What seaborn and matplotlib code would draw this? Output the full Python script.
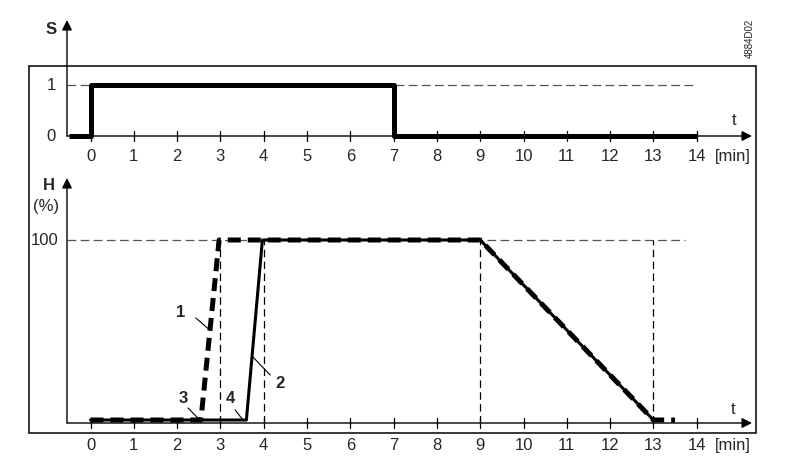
import matplotlib.pyplot as plt
import matplotlib.patches as mpatches
import seaborn as sns
import pandas as pd

# Signal S (on/off) over time [min]
s_time = [-0.5, 0, 0, 7, 7, 14]
s_value = [0, 0, 1, 1, 0, 0]

# Stroke H [%] of the two actuator curves
h1_time = [0, 2.55, 2.97, 9, 13, 13.5]
h1_value = [0, 0, 100, 100, 0, 0]
h2_time = [0, 3.6, 3.97, 9, 13]
h2_value = [0, 0, 100, 100, 0]

minutes = list(range(0, 15))
guide_times = [3, 4, 9, 13]

# curve labels: text, text position, leader start, leader end (time, H)
callouts = [
    ('1', (2.09, 60), (2.43, 56.7), (2.73, 50.5)),
    ('2', (4.38, 20.5), (3.75, 35), (4.15, 25)),
    ('3', (2.14, 11.7), (2.25, 6.7), (2.48, 1.1)),
    ('4', (3.22, 11.7), (3.34, 5.6), (3.52, 0)),
]

sns.set_style('white')
plt.rcParams['font.family'] = ['Liberation Sans', 'DejaVu Sans']

fig = plt.figure(figsize=(7.94, 4.65), dpi=100)

# pixel layout: t=0 at px 90.5, 43.3 px per minute
px0, ppm = 90.5, 43.3
xlim = (-px0 / ppm, (794 - px0) / ppm)
x_axis_start = (67 - px0) / ppm
x_arrow_end = (752 - px0) / ppm

ax1 = fig.add_axes([0, 300 / 465, 1, 165 / 465])
ax2 = fig.add_axes([0, 0, 1, 300 / 465])
for ax in (ax1, ax2):
    ax.set_xlim(*xlim)
    ax.axis('off')
    ax.patch.set_alpha(0)

# top panel: S = 0 at py 136, 51 px per unit
ax1.set_ylim((136 - 165) / 51, 136 / 51)
arrow = dict(arrowstyle='-|>', lw=1, color='black', mutation_scale=15, shrinkA=0, shrinkB=0)
ax1.annotate('', xy=(x_arrow_end, 0), xytext=(x_axis_start, 0), arrowprops=arrow)
ax1.annotate('', xy=(x_axis_start, (136 - 20) / 51), xytext=(x_axis_start, 0), arrowprops=arrow)
ax1.plot([x_axis_start, (697 - px0) / ppm], [1, 1], color='#555555', lw=0.9,
         linestyle=(0, (7, 3.5)))
for m in minutes:
    ax1.plot([m, m], [-0.1, 0.1], color='black', lw=0.9)
    ax1.text(m, -0.41, str(m), ha='center', va='center', fontsize=12)
ax1.text((56 - px0) / ppm, 1, '1', ha='right', va='center', fontsize=12)
ax1.text((56 - px0) / ppm, 0, '0', ha='right', va='center', fontsize=12)
ax1.text(14.84, -0.41, '[min]', ha='center', va='center', fontsize=12)
ax1.text(14.87, 0.31, 't', ha='center', va='center', fontsize=12)
ax1.text((51 - px0) / ppm, (136 - 29) / 51, 'S', ha='center', va='center',
         fontsize=12, fontweight='bold')

df_s = pd.DataFrame({'t': s_time, 'S': s_value})
sns.lineplot(data=df_s, x='t', y='S', estimator=None, sort=False, color='black',
             lw=3.6, ax=ax1, solid_capstyle='butt')

# bottom panel: H = 0 at py 420, 1.8 px per %
ax2.set_ylim((420 - 465) / 1.8, (420 - 165) / 1.8)
h_axis = (420 - 423) / 1.8
ax2.annotate('', xy=(x_arrow_end, h_axis), xytext=(x_axis_start, h_axis), arrowprops=arrow)
ax2.annotate('', xy=(x_axis_start, (420 - 178) / 1.8), xytext=(x_axis_start, h_axis),
             arrowprops=arrow)
ax2.plot([x_axis_start, (685 - px0) / ppm], [100, 100], color='#555555', lw=0.9,
         linestyle=(0, (7, 3.5)))
for g in guide_times:
    ax2.plot([g, g], [h_axis, 100], color='black', lw=0.9, linestyle=(0, (6, 3.5)))
for m in minutes:
    ax2.plot([m, m], [h_axis - 2.8, h_axis + 2.8], color='black', lw=0.9)
    ax2.text(m, -13.9, str(m), ha='center', va='center', fontsize=12)
ax2.text((58 - px0) / ppm, 100, '100', ha='right', va='center', fontsize=12)
ax2.text(14.84, -13.9, '[min]', ha='center', va='center', fontsize=12)
ax2.text(14.84, 5.6, 't', ha='center', va='center', fontsize=12)
ax2.text((49 - px0) / ppm, (420 - 185) / 1.8, 'H', ha='center', va='center',
         fontsize=12, fontweight='bold')
ax2.text((46 - px0) / ppm, (420 - 206) / 1.8, '(%)', ha='center', va='center', fontsize=12)

df_h2 = pd.DataFrame({'t': h2_time, 'H': h2_value})
df_h1 = pd.DataFrame({'t': h1_time, 'H': h1_value})
sns.lineplot(data=df_h2, x='t', y='H', estimator=None, sort=False, color='black',
             lw=2.2, ax=ax2)
sns.lineplot(data=df_h1, x='t', y='H', estimator=None, sort=False, color='black',
             lw=3.6, ax=ax2)
ax2.lines[-1].set_linestyle((0, (2.6, 1.4)))
ax2.lines[-1].set_dash_capstyle('butt')

for label, pos, start, end in callouts:
    ax2.text(pos[0], pos[1], label, ha='center', va='center', fontsize=12, fontweight='bold')
    ax2.plot([start[0], end[0]], [start[1], end[1]], color='black', lw=0.8)

for ax in (ax1, ax2):
    ax.set_xlabel('')
    ax.set_ylabel('')

# outer frame and drawing number
fig.patches.append(mpatches.Rectangle((29 / 794, (465 - 433) / 465), 727 / 794, 367 / 465,
                                      transform=fig.transFigure, fill=False,
                                      edgecolor='black', lw=1.1))
fig.text(750 / 794, (465 - 38) / 465, '4884D02', rotation=90, ha='center', va='center',
         fontsize=7)

fig.savefig('out.png', dpi=100)
